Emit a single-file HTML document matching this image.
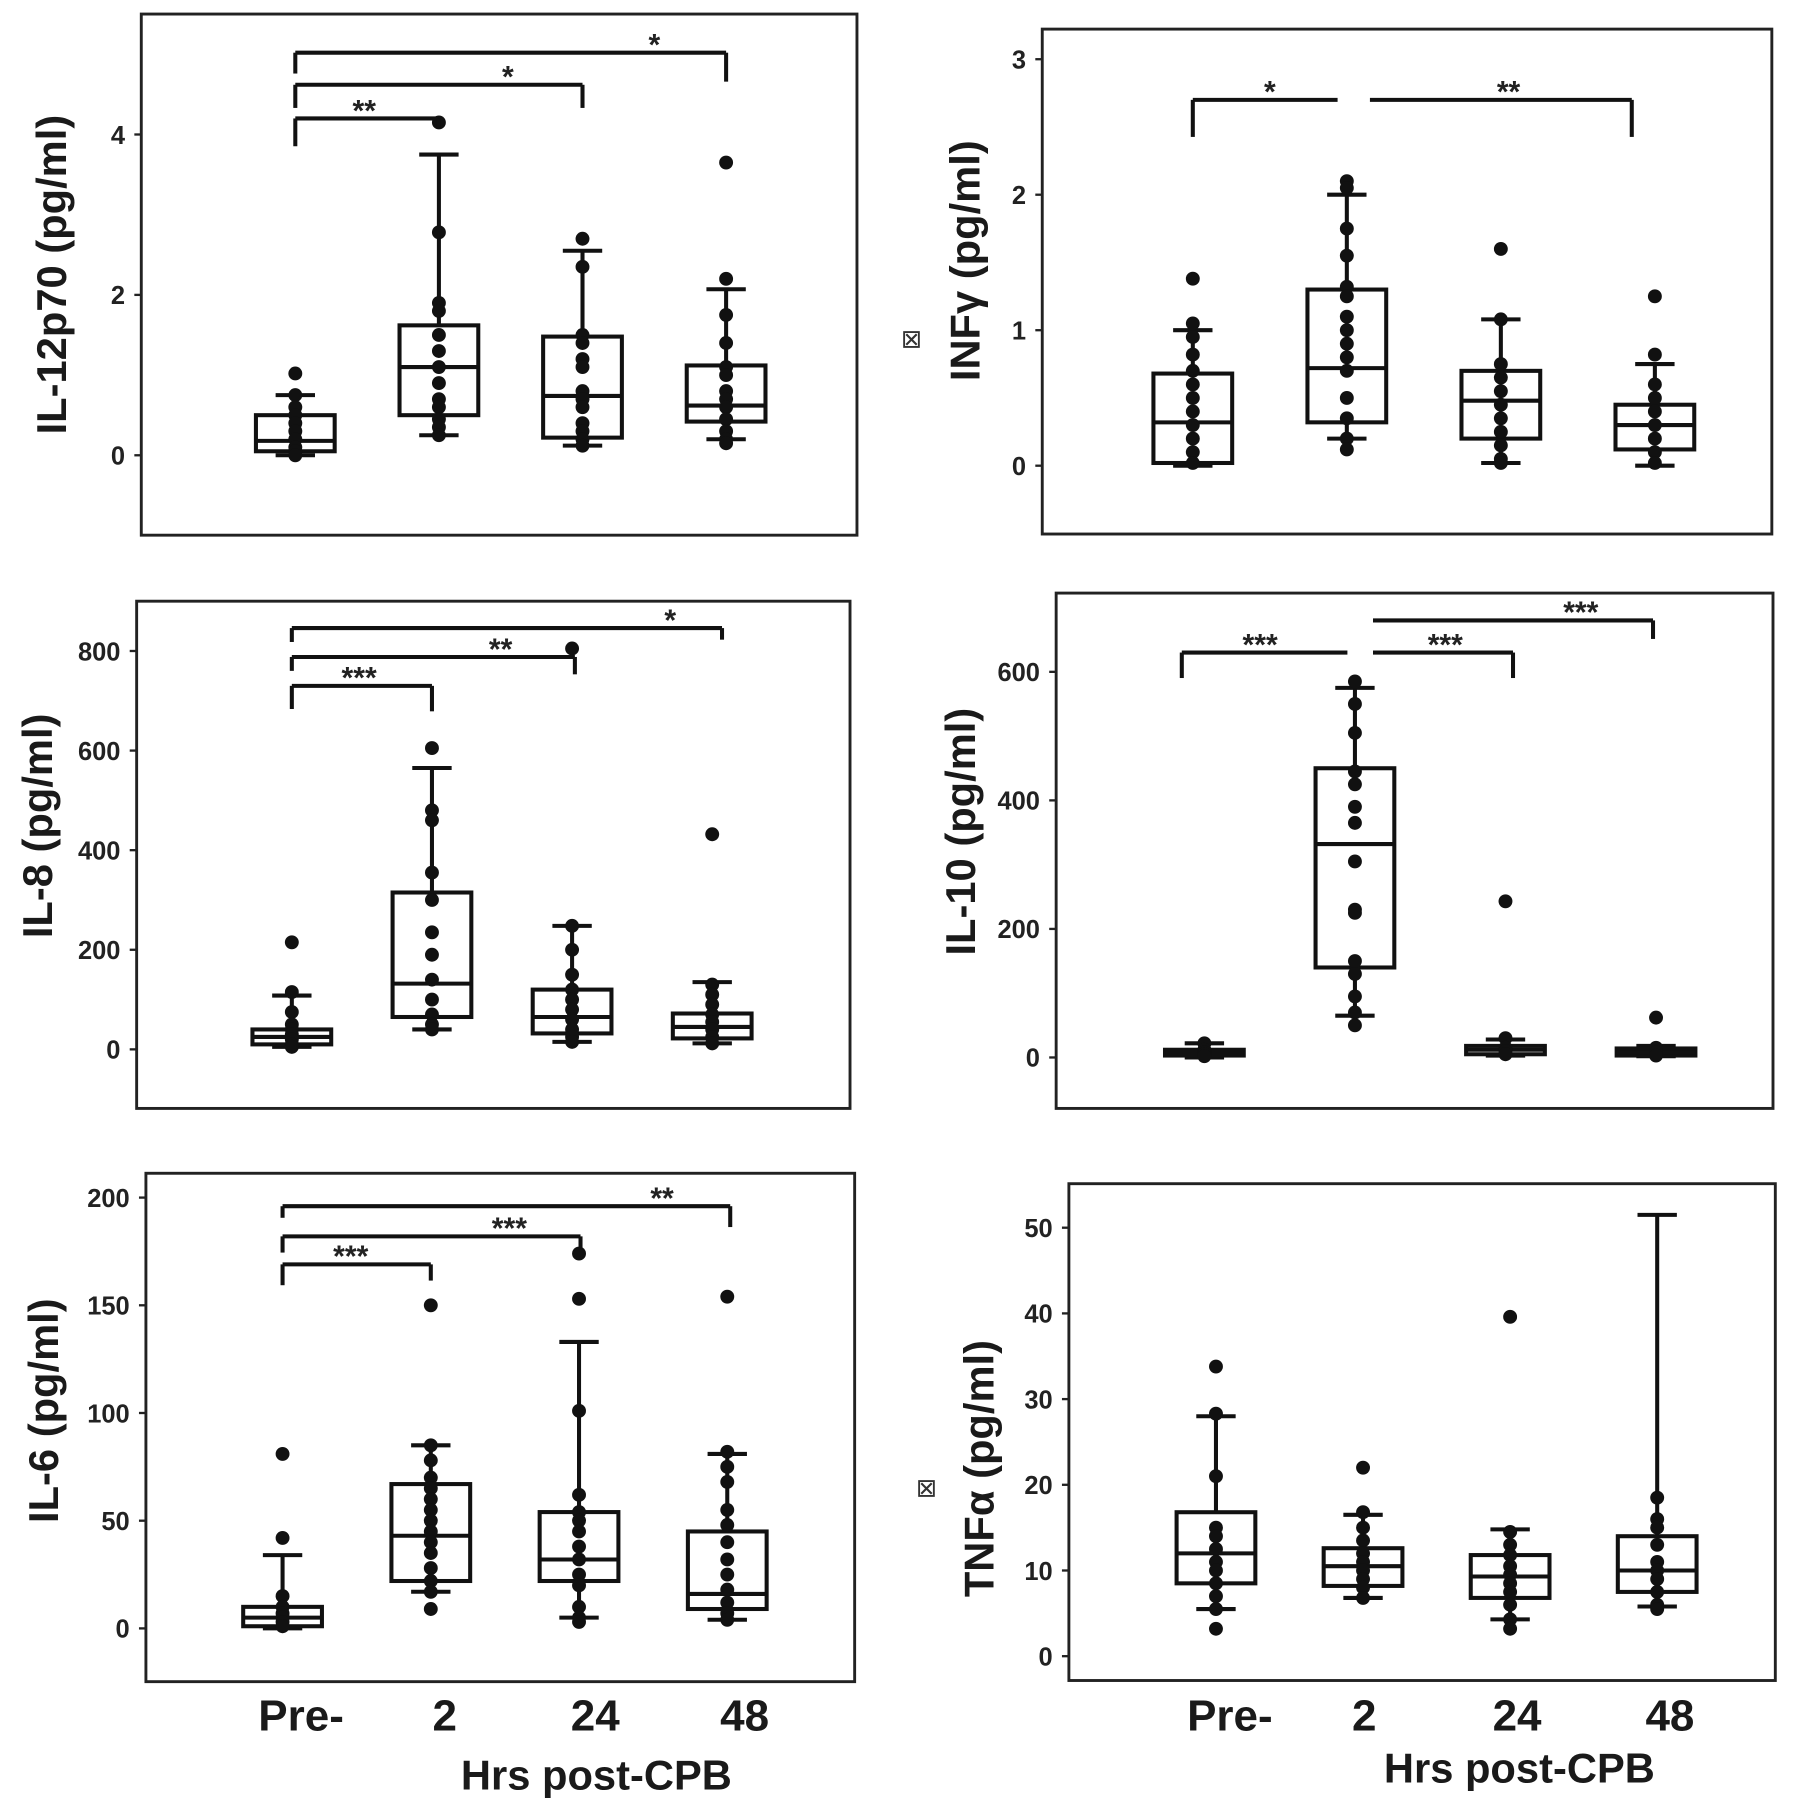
<!DOCTYPE html>
<html><head><meta charset="utf-8"><style>
html,body{margin:0;padding:0;background:#fff;}
svg{display:block;font-family:"Liberation Sans",Arial,sans-serif;}
</style></head><body>
<svg id="fig" width="1795" height="1815" viewBox="0 0 1550 1567" xmlns="http://www.w3.org/2000/svg"></svg>
<script>
const categories = ["Pre-","2","24","48"];
// Panel 1: IL-12p70
const il12Stats = [[0,0.05,0.18,0.5,0.75],[0.25,0.5,1.1,1.62,3.75],[0.12,0.22,0.74,1.48,2.55],[0.2,0.42,0.62,1.12,2.07]];
const il12Points = [[1.02,0.75,0.6,0.5,0.4,0.3,0.2,0.1,0.05,0],[4.15,2.78,1.9,1.8,1.5,1.3,1.1,0.9,0.7,0.6,0.45,0.35,0.25],[2.7,2.35,1.5,1.4,1.2,1.1,0.8,0.7,0.6,0.4,0.3,0.2,0.12],[3.65,2.2,1.75,1.4,1.1,1.0,0.8,0.7,0.6,0.45,0.3,0.2,0.15]];
const il12Ticks = [0,2,4];
// Panel 2: INFγ
const infStats = [[0,0.02,0.32,0.68,1.0],[0.2,0.32,0.72,1.3,2.0],[0.02,0.2,0.48,0.7,1.08],[0,0.12,0.3,0.45,0.75]];
const infPoints = [[1.38,1.05,0.95,0.82,0.7,0.6,0.5,0.4,0.3,0.2,0.1,0.02],[2.1,2.05,1.75,1.55,1.32,1.25,1.1,1.0,0.9,0.8,0.7,0.5,0.35,0.2,0.12],[1.6,1.08,0.75,0.65,0.55,0.45,0.35,0.25,0.15,0.05,0.02],[1.25,0.82,0.6,0.5,0.4,0.3,0.2,0.1,0.02]];
const infTicks = [0,1,2,3];
// Panel 3: IL-8
const il8Stats = [[5,10,25,40,108],[40,65,132,315,565],[15,32,65,120,248],[12,22,45,72,135]];
const il8Points = [[215,115,75,50,40,30,20,10,5],[605,480,460,355,300,235,190,140,100,70,50,40],[805,248,200,150,120,100,80,60,40,25,15],[432,130,110,90,70,55,40,25,12]];
const il8Ticks = [0,200,400,600,800];
// Panel 4: IL-10
const il10Stats = [[0,3,7,12,22],[65,140,332,450,575],[3,5,12,18,28],[2,3,8,14,18]];
const il10Points = [[22,12,8,5,2],[585,550,505,445,425,390,365,305,230,225,150,130,95,70,50],[243,30,15,10,5],[62,15,8,3]];
const il10Ticks = [0,200,400,600];
// Panel 5: IL-6
const il6Stats = [[0,1,5,10,34],[17,22,43,67,85],[5,22,32,54,133],[4,9,16,45,81]];
const il6Points = [[81,42,15,10,7,5,3,1],[150,85,78,70,65,60,55,50,45,40,35,28,22,17,9],[174,153,101,62,54,50,45,38,32,25,20,10,5,3],[154,82,75,68,55,48,40,32,25,18,12,7,4]];
const il6Ticks = [0,50,100,150,200];
// Panel 6: TNFα
const tnfStats = [[5.5,8.5,12,16.8,28],[6.8,8.2,10.5,12.6,16.5],[4.3,6.8,9.3,11.8,14.8],[5.8,7.5,10,14,51.5]];
const tnfPoints = [[33.8,28.3,21,15,14,12.5,11,10,8.5,7,5.5,3.2],[22,16.8,15,13.5,12,11,10,9,8,6.8],[39.6,14.5,13,11.8,10.5,9.5,8.5,7.5,6,4.3,3.2],[18.5,16,15,13,11,10,9,7.5,6,5.5]];
const tnfTicks = [0,10,20,30,40,50];

const NS="http://www.w3.org/2000/svg";
const svg=document.getElementById('fig');
function mk(tag,attrs,parent){const e=document.createElementNS(NS,tag);for(const k in attrs)e.setAttribute(k,attrs[k]);(parent||svg).appendChild(e);return e;}

function panel(cfg){
  const g=mk('g',{});
  
  
  const y=v=>cfg.y0+(cfg.y1-cfg.y0)*(v-cfg.v0)/(cfg.v1-cfg.v0);
  const x=i=>cfg.xs[0]+(cfg.xs[1]-cfg.xs[0])*i;
  const frame=mk('rect',{x:cfg.box[0],y:cfg.box[1],width:cfg.box[2]-cfg.box[0],height:cfg.box[3]-cfg.box[1],fill:'none',stroke:'#222','stroke-width':2.5},g);
  
  
  cfg.ticks.forEach(t=>{
    const tl=mk('line',{x1:cfg.box[0]-6,x2:cfg.box[0],y1:y(t),y2:y(t),stroke:'#222','stroke-width':2},g);
    
    
    const tx=mk('text',{x:cfg.box[0]-14,y:y(t)+8,'text-anchor':'end','font-size':22,'font-weight':'bold',fill:'#222'},g);
    tx.textContent=t;
    
    
  });
  const yl=mk('text',{transform:`translate(${cfg.ylx},${cfg.yly}) rotate(-90)`,'text-anchor':'middle','font-size':36,'font-weight':'bold',fill:'#1a1a1a'},g);
  yl.textContent=cfg.ylabel;
  
  
  if(cfg.mark){const m=mk('text',{x:cfg.mark[0],y:cfg.mark[1],'text-anchor':'middle','font-size':22,fill:'#333','font-family':'DejaVu Sans'},g);m.textContent='⊠';
    
    }
  cfg.stats.forEach((s,i)=>{
    const cx=x(i),hw=34,cw=17;
    const bg=mk('g',{stroke:'#111','stroke-width':3.5,fill:'none'},g);
    
    
    mk('line',{x1:cx,x2:cx,y1:y(s[0]),y2:y(s[1])},bg);
    mk('line',{x1:cx,x2:cx,y1:y(s[3]),y2:y(s[4])},bg);
    mk('line',{x1:cx-cw,x2:cx+cw,y1:y(s[0]),y2:y(s[0])},bg);
    mk('line',{x1:cx-cw,x2:cx+cw,y1:y(s[4]),y2:y(s[4])},bg);
    mk('rect',{x:cx-hw,y:y(s[3]),width:2*hw,height:y(s[1])-y(s[3])},bg);
    mk('line',{x1:cx-hw,x2:cx+hw,y1:y(s[2]),y2:y(s[2])},bg);
    cfg.points[i].forEach(p=>{
      const c=mk('circle',{cx:cx,cy:y(p),r:6,fill:'#111'},g);
      
      
    });
  });
  (cfg.brackets||[]).forEach(b=>{
    const bg=mk('g',{stroke:'#111','stroke-width':3.5,fill:'none'},g);
    
    
    const ya=y(b.v);
    mk('line',{x1:x(b.a),x2:x(b.b),y1:ya,y2:ya},bg);
    if(b.da!==undefined)mk('line',{x1:x(b.a),x2:x(b.a),y1:ya,y2:ya+b.da},bg);
    if(b.db!==undefined)mk('line',{x1:x(b.b),x2:x(b.b),y1:ya,y2:ya+b.db},bg);
    const t=mk('text',{x:x(b.lx),y:ya+2,'text-anchor':'middle','font-size':26,'font-weight':'bold',fill:'#222'},g);
    t.textContent=b.label;
    
    
  });
}

panel({name:'il12p70-panel',box:[122,12,740,462],y0:393,y1:116,v0:0,v1:4,xs:[255,379],ticks:il12Ticks,stats:il12Stats,points:il12Points,ylabel:'IL-12p70 (pg/ml)',ylx:57,yly:237,
 brackets:[{a:0,b:1,v:4.2,da:24,db:8,label:'**',lx:0.48},{a:0,b:2,v:4.62,da:20,db:20,label:'*',lx:1.48},{a:0,b:3,v:5.02,da:18,db:25,label:'*',lx:2.5}]});
panel({name:'infg-panel',box:[900,25,1530,461],y0:402,y1:285,v0:0,v1:1,xs:[1030,1163],ticks:infTicks,stats:infStats,points:infPoints,ylabel:'INFγ  (pg/ml)',ylx:846,yly:225,mark:[787,300],
 brackets:[{a:0,b:0.94,v:2.7,da:32,label:'*',lx:0.5},{a:1.15,b:2.85,v:2.7,db:32,label:'**',lx:2.05}]});
panel({name:'il8-panel',box:[118,519,734,957],y0:906,y1:820,v0:0,v1:200,xs:[252,373],ticks:il8Ticks,stats:il8Stats,points:il8Points,ylabel:'IL-8 (pg/ml)',ylx:45,yly:713,
 brackets:[{a:0,b:1,v:730,da:20,db:22,label:'***',lx:0.48},{a:0,b:2.02,v:788,da:12,db:15,label:'**',lx:1.49},{a:0,b:3.07,v:846,da:12,db:10,label:'*',lx:2.7}]});
panel({name:'il10-panel',box:[912,512,1531,957],y0:913,y1:802,v0:0,v1:200,xs:[1040,1170],ticks:il10Ticks,stats:il10Stats,points:il10Points,ylabel:'IL-10 (pg/ml)',ylx:842,yly:718,
 brackets:[{a:-0.15,b:0.95,v:630,da:22,label:'***',lx:0.37},{a:1.12,b:2.05,v:630,db:22,label:'***',lx:1.6},{a:1.12,b:2.98,v:680,db:16,label:'***',lx:2.5}]});
panel({name:'il6-panel',box:[126,1013,738,1452],y0:1406,y1:1313,v0:0,v1:50,xs:[244,372],ticks:il6Ticks,stats:il6Stats,points:il6Points,ylabel:'IL-6 (pg/ml)',ylx:50,yly:1218,
 brackets:[{a:0,b:1,v:169,da:18,db:14,label:'***',lx:0.46},{a:0,b:2.01,v:182,da:14,db:10,label:'***',lx:1.53},{a:0,b:3.02,v:196,da:10,db:18,label:'**',lx:2.56}]});
panel({name:'tnfa-panel',box:[923,1022,1533,1451],y0:1430,y1:1356,v0:0,v1:10,xs:[1050,1177],ticks:tnfTicks,stats:tnfStats,points:tnfPoints,ylabel:'TNFα  (pg/ml)',ylx:858,yly:1268,mark:[800,1292]});

function xl(xs,cx,labelY){
  categories.forEach((c,i)=>{const t=mk('text',{x:xs[i],y:1494,'text-anchor':'middle','font-size':38,'font-weight':'bold',fill:'#1a1a1a'});t.textContent=c;
    
    });
  const t=mk('text',{x:cx,y:labelY,'text-anchor':'middle','font-size':36,'font-weight':'bold',fill:'#1a1a1a'});t.textContent='Hrs post-CPB';
  
  
}
xl([260,384,514,643],515,1545);
xl([1062,1178,1310,1442],1312,1539);
</script>
</body></html>
